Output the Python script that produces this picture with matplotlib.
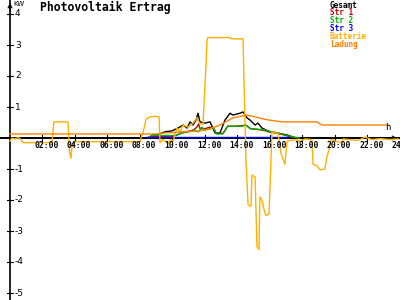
import matplotlib
matplotlib.use('Agg')
import matplotlib.pyplot as plt

# time in hours, power in kW
gesamt_t = [0, 8.6, 8.8, 9.05, 9.54, 9.97, 10.34, 10.65, 10.9, 11.08, 11.26, 11.45, 11.57, 11.69, 12.0,
            12.31, 12.62, 12.92, 13.23, 13.54, 13.72, 14.15, 14.34, 14.58, 14.77, 15.08, 15.26, 15.51,
            16.0, 16.43, 17.05, 17.42, 17.54, 24]
gesamt_v = [0, 0, 0.1, 0.1, 0.2, 0.23, 0.32, 0.42, 0.32, 0.52, 0.42, 0.58, 0.8, 0.52, 0.48,
            0.52, 0.16, 0.16, 0.58, 0.8, 0.74, 0.8, 0.84, 0.65, 0.58, 0.42, 0.48, 0.32,
            0.2, 0.16, 0.1, 0.03, 0, 0]

str1_t = [8.6, 8.8, 10.0, 10.3, 10.6, 11.0, 11.3, 11.5, 11.6, 11.7, 12.0, 12.3, 12.5, 12.7, 13.1,
          13.4, 13.8, 14.3, 14.5, 14.8, 15.3, 15.6, 15.9, 16.3, 16.7, 17.2, 17.6]
str1_v = [0.0, 0.05, 0.06, 0.1, 0.18, 0.22, 0.26, 0.35, 0.45, 0.3, 0.3, 0.35, 0.33, 0.15, 0.15,
          0.38, 0.38, 0.4, 0.42, 0.3, 0.27, 0.25, 0.2, 0.17, 0.12, 0.05, 0.0]

str2_t = [8.5, 8.7, 10.0, 10.3, 10.6, 11.0, 11.3, 11.6, 11.8, 12.0, 12.3, 12.5, 12.7, 13.1, 13.4,
          13.8, 14.3, 14.5, 14.8, 15.3, 15.6, 15.9, 16.3, 16.7, 17.2, 17.6, 17.8]
str2_v = [0.02, 0.08, 0.08, 0.1, 0.16, 0.2, 0.26, 0.2, 0.35, 0.26, 0.3, 0.35, 0.13, 0.13, 0.38,
          0.38, 0.38, 0.42, 0.3, 0.28, 0.27, 0.22, 0.19, 0.13, 0.06, 0.02, 0.0]

str3_t = [8.4, 17.2]
str3_v = [0.04, 0.04]

batt_t = [0, 0.12, 0.3, 0.5, 0.68, 0.8, 2.58, 2.7, 3.57, 3.66, 3.75, 3.82, 4.0, 8.0, 8.06, 8.18,
          8.37, 8.6, 8.92, 9.17, 9.23, 9.42, 9.72, 9.9, 10.03, 10.15, 10.28, 10.46, 10.65, 10.95,
          11.26, 11.5, 11.69, 11.88, 12.0, 12.06, 12.12, 12.18, 13.54, 13.6, 14.34, 14.4, 14.52,
          14.65, 14.83, 14.89, 15.08, 15.2, 15.32, 15.38, 15.51, 15.63, 15.75, 15.94, 16.0, 16.12,
          16.49, 16.68, 16.92, 17.05, 17.54, 17.85, 18.15, 18.58, 18.65, 18.89, 19.08, 19.38, 19.5,
          19.63, 19.75, 20.37, 20.49, 20.9, 21.4, 21.85, 22.28, 22.77, 23.38, 23.88]
batt_v = [-0.1, 0.0, -0.03, 0.02, -0.05, -0.15, -0.15, 0.52, 0.52, -0.45, -0.65, -0.25, -0.12, -0.12, 0.0, 0.15,
          0.6, 0.68, 0.7, 0.68, -0.15, -0.05, -0.18, -0.05, -0.1, 0.1, 0.32, 0.2, 0.42, 0.35,
          0.48, 0.65, 0.45, 0.45, 1.77, 2.3, 3.15, 3.24, 3.24, 3.2, 3.2, 1.84, -0.7,
          -2.15, -2.2, -1.2, -1.25, -3.5, -3.6, -1.9, -2.0, -2.3, -2.5, -2.45, -1.6, 0.2,
          0.15, -0.5, -0.85, -0.1, -0.05, -0.1, -0.03, -0.05, -0.85, -0.9, -1.03, -1.0, -0.6,
          -0.4, -0.05, -0.15, -0.03, -0.05, -0.08, 0.03, -0.05, -0.02, -0.05, -0.03]

ladung_t = [0, 9.23, 9.42, 11.69, 12.31, 12.92, 13.72, 14.58, 15.08, 15.69, 16.31, 16.74, 18.89, 19.08, 19.26, 23.26]
ladung_v = [0.13, 0.13, 0.16, 0.23, 0.29, 0.42, 0.65, 0.74, 0.68, 0.6, 0.55, 0.52, 0.52, 0.45, 0.42, 0.42]

series = [
    ('Gesamt', gesamt_t, gesamt_v, '#000000'),
    ('Str 1', str1_t, str1_v, '#c00000'),
    ('Str 2', str2_t, str2_v, '#00b000'),
    ('Str 3', str3_t, str3_v, '#0000ff'),
    ('Batterie', batt_t, batt_v, '#ffb000'),
    ('Ladung', ladung_t, ladung_v, '#ff8000'),
]

yticks = [4, 3, 2, 1, -1, -2, -3, -4, -5]
xticks = [2, 4, 6, 8, 10, 12, 14, 16, 18, 20, 22, 24]
xlabels = ['02:00', '04:00', '06:00', '08:00', '10:00', '12:00', '14:00', '16:00', '18:00', '20:00', '22:00', '24:00']

fig = plt.figure(figsize=(4, 3), dpi=100)
ax = fig.add_axes([0, 0, 1, 1])
ax.set_xlim(-10 / 16.25, 24.0)
ax.set_ylim(-162 / 31, 138 / 31)
ax.axis('off')

# axes with arrows
ax.axhline(0, color='black', lw=1.4, zorder=1)
ax.axvline(0, color='black', lw=1.2, zorder=1)
ax.annotate('', xy=(24.0, 0), xytext=(23.5, 0),
            arrowprops=dict(arrowstyle='->', color='black', lw=0.8, mutation_scale=7))
ax.annotate('', xy=(0, 4.45), xytext=(0, 4.0),
            arrowprops=dict(arrowstyle='->', color='black', lw=0.8, mutation_scale=7))

for name, t, v, c in series:
    ax.plot(t, v, color=c, lw=1.0, zorder=3)

mono = 'DejaVu Sans Mono'
for v in yticks:
    ax.plot([-3 / 16.25, 3 / 16.25], [v, v], color='black', lw=0.8)
    ax.annotate(str(v), xy=(0, v), xytext=(3.5, 0), textcoords='offset points',
                ha='left', va='center', fontsize=6.5, family='DejaVu Sans')
for h, lab in zip(xticks, xlabels):
    ax.plot([h, h], [-3 / 31, 3 / 31], color='black', lw=0.8)
    ax.annotate(lab, xy=(h, 0), xytext=(3, -2), textcoords='offset points',
                ha='center', va='top', fontsize=5.8, family=mono, fontweight='bold')

ax.annotate('KW', xy=(0, 4.45), xytext=(2.5, -1), textcoords='offset points',
            ha='left', va='top', fontsize=5, family='DejaVu Sans')
ax.text(23.1, 0.2, 'h', ha='left', va='bottom', fontsize=6.5, family=mono)

fig.text(0.1, 0.975, 'Photovoltaik Ertrag', ha='left', va='center',
         fontsize=8.3, family=mono, fontweight='bold')

for i, (name, t, v, c) in enumerate(series):
    fig.text(0.825, 0.983 - i * 0.0262, name, ha='left', va='center',
             fontsize=5.6, family=mono, fontweight='bold', color=c)

fig.savefig('out.png', dpi=100, facecolor='white')
